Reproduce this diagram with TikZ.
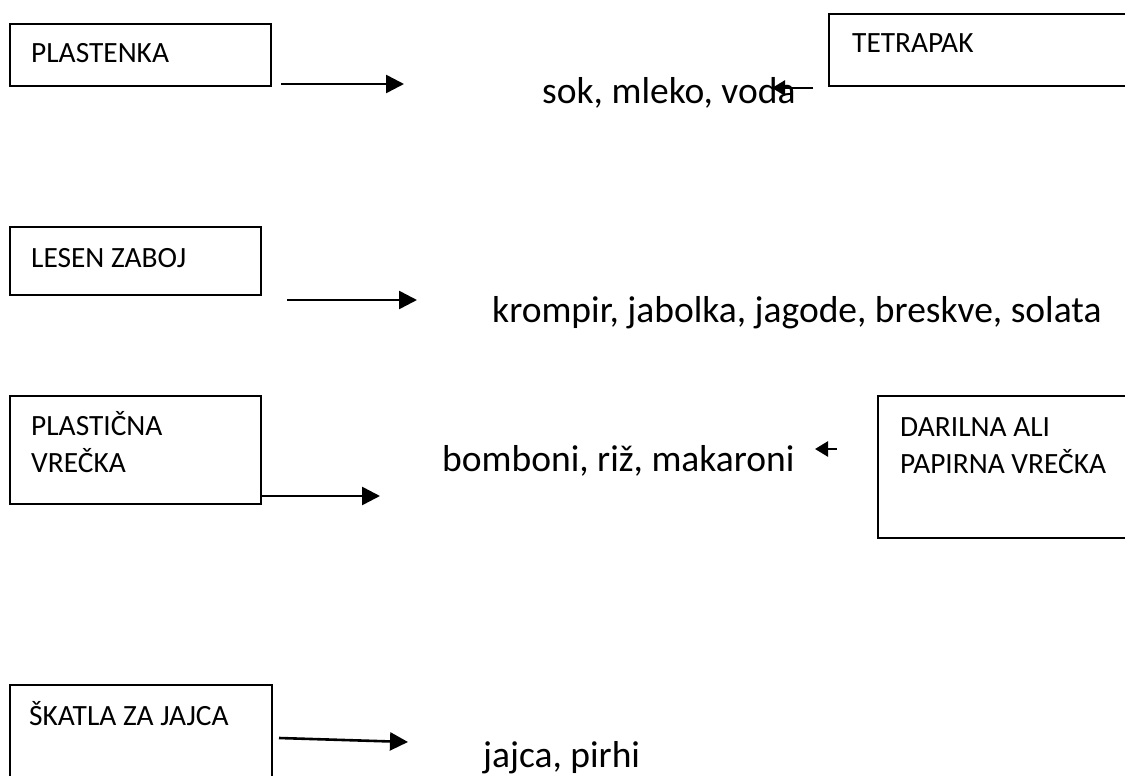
\documentclass[tikz,border=0pt]{standalone}
\usepackage{fontspec}
\setmainfont{Carlito}
\usetikzlibrary{arrows.meta}
\tikzset{
  boxnode/.style={draw=black, line width=1.7pt, rectangle, inner sep=0pt, outer sep=0pt},
  smalltext/.style={anchor=base west, inner sep=0pt, font=\fontsize{29.4}{37}\selectfont},
  bigtext/.style={anchor=base west, inner sep=0pt, font=\fontsize{37.5}{45}\selectfont},
  bigarrow/.style={line width=2.6pt, -{Triangle[length=18pt,width=18pt]}},
  smallarrow/.style={line width=2.6pt, -{Triangle[length=13pt,width=15pt]}}
}
\begin{document}
\begin{tikzpicture}[x=1pt,y=-1pt]
\useasboundingbox (0,0) rectangle (1125,776);
\clip (0,0) rectangle (1125,776);
\fill[white] (0,0) rectangle (1125,776);

% boxes
\node[boxnode, minimum width=261pt, minimum height=62pt, anchor=north west] (b1) at (10,24) {};
\node[boxnode, minimum width=320pt, minimum height=72pt, anchor=north west] (b2) at (829,14) {};
\node[boxnode, minimum width=251pt, minimum height=68pt, anchor=north west] (b3) at (10,227) {};
\node[boxnode, minimum width=251pt, minimum height=108pt, anchor=north west] (b4) at (10,396) {};
\node[boxnode, minimum width=270pt, minimum height=142pt, anchor=north west] (b5) at (878,396) {};
\node[boxnode, minimum width=262pt, minimum height=130pt, anchor=north west] (b6) at (10,685) {};

% box texts
\node[smalltext] (l1) at (31,63) {PLASTENKA};
\node[smalltext] (l2) at (852,53) {TETRAPAK};
\node[smalltext] (l3) at (31,267) {LESEN ZABOJ};
\node[smalltext] (l4) at (31,435) {\vtop{\hbox{PLASTIČNA}\hbox{VREČKA}}};
\node[smalltext] (l5) at (900,436) {\vtop{\hbox{DARILNA ALI}\hbox{PAPIRNA VREČKA}}};
\node[smalltext] (l6) at (29,725) {ŠKATLA ZA JAJCA};

% contents
\node[bigtext] (t1) at (542,103) {sok, mleko, voda};
\node[bigtext] (t2) at (492,322) {krompir, jabolka, jagode, breskve, solata};
\node[bigtext] (t3) at (442,471) {bomboni, riž, makaroni};
\node[bigtext] (t4) at (483,767) {jajca, pirhi};

% arrow end points
\coordinate (a1s) at (281,84);  \coordinate (a1e) at (404,84);
\coordinate (a2s) at (813,88);  \coordinate (a2e) at (772,88);
\coordinate (a3s) at (287,300); \coordinate (a3e) at (417,300);
\coordinate (a4s) at (261,496); \coordinate (a4e) at (380,496);
\coordinate (a5s) at (837,449); \coordinate (a5e) at (815,449);
\coordinate (a6s) at (279,738); \coordinate (a6e) at (408,742);

\draw[bigarrow] (a1s) -- (a1e);
\draw[smallarrow] (a2s) -- (a2e);
\draw[bigarrow] (a3s) -- (a3e);
\draw[bigarrow] (a4s) -- (a4e);
\draw[smallarrow] (a5s) -- (a5e);
\draw[bigarrow] (a6s) -- (a6e);
\end{tikzpicture}
\end{document}
